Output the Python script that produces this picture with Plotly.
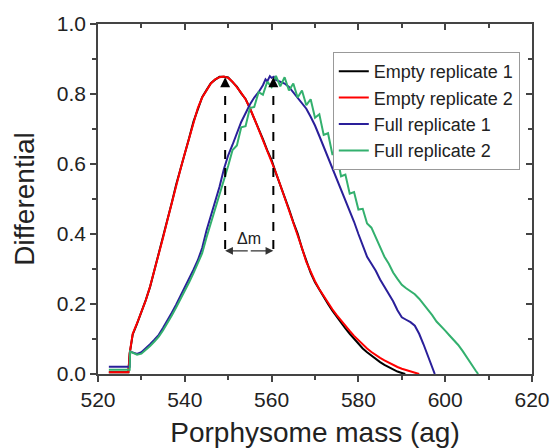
import plotly.graph_objects as go

# Empty replicate 1 (black)
empty1_x = [522.5, 527.0, 527.3, 528, 529, 530, 531, 532, 533, 534, 535, 536, 537, 538, 539,
            540, 541, 542, 543, 544, 545, 546, 547, 548, 549, 550, 551, 552, 553, 554, 555,
            556, 557, 558, 559, 560, 561, 562, 563, 564, 565, 566, 567, 568, 569, 570, 571,
            572, 573, 574, 575, 576, 577, 578, 579, 580, 581, 582, 583, 584, 585, 586, 587,
            588, 589, 590, 590.8]
empty1_y = [0.005, 0.005, 0.058, 0.113, 0.144, 0.176, 0.211, 0.249, 0.296, 0.341, 0.389, 0.441,
            0.489, 0.541, 0.584, 0.631, 0.674, 0.721, 0.759, 0.791, 0.811, 0.831, 0.841, 0.849,
            0.849, 0.847, 0.834, 0.821, 0.802, 0.786, 0.759, 0.731, 0.699, 0.671, 0.639, 0.611,
            0.574, 0.541, 0.504, 0.471, 0.434, 0.401, 0.359, 0.321, 0.289, 0.262, 0.240, 0.219,
            0.200, 0.181, 0.163, 0.146, 0.130, 0.115, 0.100, 0.086, 0.073, 0.062, 0.052, 0.043,
            0.034, 0.026, 0.019, 0.013, 0.007, 0.003, 0.0]

# Empty replicate 2 (red)
empty2_x = [522.5, 527.0, 527.3, 528, 529, 530, 531, 532, 533, 534, 535, 536, 537, 538, 539,
            540, 541, 542, 543, 544, 545, 546, 547, 548, 549, 550, 551, 552, 553, 554, 555,
            556, 557, 558, 559, 560, 561, 562, 563, 564, 565, 566, 567, 568, 569, 570, 571,
            572, 573, 574, 575, 576, 577, 578, 579, 580, 581, 582, 583, 584, 585, 586, 587,
            588, 589, 590, 591, 592, 593, 594]
empty2_y = [0.005, 0.005, 0.06, 0.115, 0.145, 0.175, 0.21, 0.25, 0.295, 0.34, 0.39, 0.44, 0.49,
            0.54, 0.585, 0.63, 0.675, 0.72, 0.76, 0.79, 0.812, 0.83, 0.842, 0.848, 0.85, 0.846,
            0.835, 0.82, 0.803, 0.785, 0.76, 0.73, 0.70, 0.67, 0.64, 0.61, 0.575, 0.54, 0.505,
            0.47, 0.435, 0.40, 0.36, 0.32, 0.29, 0.265, 0.242, 0.222, 0.203, 0.185, 0.168,
            0.152, 0.137, 0.123, 0.109, 0.096, 0.084, 0.073, 0.063, 0.054, 0.046, 0.039, 0.032,
            0.026, 0.02, 0.015, 0.011, 0.007, 0.003, 0.0]

# Full replicate 1 (blue)
full1_x = [522.5, 527.3, 527.4, 528, 529, 530, 531, 532, 533, 534, 535, 536, 537, 538, 539,
           540, 541, 542, 543, 544, 545, 546, 547, 548, 549, 550, 551, 552, 553, 554, 555,
           556, 557, 558, 558.6, 559, 559.6, 560, 560.5, 561, 562, 563, 564, 565, 566, 567,
           568, 569, 570, 571, 572, 573, 574, 575, 576, 577, 578, 579, 580, 581, 582, 583,
           584, 585, 586, 587, 588, 589, 590, 591, 592, 593, 594, 595, 596, 597, 597.6]
full1_y = [0.021, 0.021, 0.064, 0.061, 0.057, 0.062, 0.073, 0.085, 0.098, 0.112, 0.132, 0.152,
           0.175, 0.198, 0.222, 0.248, 0.272, 0.298, 0.325, 0.36, 0.41, 0.45, 0.49, 0.535,
           0.585, 0.625, 0.655, 0.69, 0.72, 0.745, 0.77, 0.79, 0.805, 0.825, 0.842, 0.836,
           0.851, 0.846, 0.849, 0.84, 0.835, 0.83, 0.82, 0.805, 0.79, 0.775, 0.758, 0.735,
           0.71, 0.68, 0.65, 0.62, 0.59, 0.56, 0.53, 0.50, 0.47, 0.435, 0.40, 0.365, 0.335,
           0.315, 0.295, 0.27, 0.25, 0.232, 0.208, 0.182, 0.162, 0.155, 0.148, 0.138, 0.115,
           0.085, 0.05, 0.02, 0.0]

# Full replicate 2 (green)
full2_x = [522.5, 527.3, 527.4, 528, 529, 530, 531, 532, 533, 534, 535, 536, 537, 538, 539,
           540, 541, 542, 543, 544, 545, 546, 547, 548, 549, 550, 551, 552, 553, 554, 555,
           556, 557, 558, 559, 560, 561, 562, 563, 564, 565, 566, 567, 568, 569, 570, 571,
           572, 573, 574, 575, 576, 577, 578, 579, 580, 581, 582, 583, 584, 585, 586, 587,
           588, 589, 590, 591, 592, 593, 594, 595, 596, 597, 598, 599, 600, 601, 602, 603,
           604, 605, 606, 607, 607.6]
full2_y = [0.012, 0.012, 0.064, 0.06, 0.055, 0.058, 0.068, 0.08, 0.093, 0.107, 0.125, 0.145,
           0.167, 0.19, 0.213, 0.238, 0.262, 0.288, 0.315, 0.345, 0.39, 0.43, 0.47, 0.51,
           0.555, 0.595, 0.64, 0.653, 0.705, 0.708, 0.76, 0.763, 0.805, 0.798, 0.835, 0.82,
           0.852, 0.822, 0.848, 0.81, 0.83, 0.79, 0.81, 0.768, 0.785, 0.732, 0.742, 0.683,
           0.688, 0.628, 0.628, 0.565, 0.57, 0.515, 0.52, 0.47, 0.472, 0.43, 0.418, 0.39,
           0.365, 0.335, 0.315, 0.29, 0.272, 0.255, 0.245, 0.236, 0.228, 0.215, 0.2, 0.185,
           0.168, 0.15, 0.138, 0.124, 0.11, 0.097, 0.083, 0.066, 0.046, 0.028, 0.01, 0.0]

series_names = ["Empty replicate 1", "Empty replicate 2", "Full replicate 1", "Full replicate 2"]
series_colors = ["#000000", "#ff0000", "#2a1f9a", "#33b06e"]

# peak positions used for the delta-m markers
peak_empty = 549.3
peak_full = 560.4
peak_height = 0.848
dm_level = 0.352

font_family = "Liberation Sans, Arial, sans-serif"
axis_color = "#444444"

fig = go.Figure()
for name, color, xs, ys in zip(
    series_names,
    series_colors,
    [empty1_x, empty2_x, full1_x, full2_x],
    [empty1_y, empty2_y, full1_y, full2_y],
):
    fig.add_trace(go.Scatter(x=xs, y=ys, mode="lines", name=name,
                             line=dict(color=color, width=2)))

# dummy trace so the mirrored (inside-tick) axes are drawn
fig.add_trace(go.Scatter(x=[None], y=[None], xaxis="x2", yaxis="y2",
                         showlegend=False, hoverinfo="skip"))

# dashed vertical markers at the two peaks
for px in [peak_empty, peak_full]:
    fig.add_shape(type="line", x0=px, x1=px, y0=dm_level + 0.005, y1=peak_height - 0.03,
                  line=dict(color="black", width=2, dash="dash"))
    fig.add_annotation(x=px, y=peak_height, ax=px, ay=peak_height - 0.03,
                       xref="x", yref="y", axref="x", ayref="y", text="",
                       showarrow=True, arrowhead=2, arrowsize=1, arrowwidth=2,
                       arrowcolor="black")
    fig.add_annotation(x=px, y=dm_level, ax=(peak_empty + peak_full) / 2, ay=dm_level,
                       xref="x", yref="y", axref="x", ayref="y", text="",
                       showarrow=True, arrowhead=2, arrowsize=1.3, arrowwidth=1.2,
                       arrowcolor="#333333")

fig.add_annotation(x=(peak_empty + peak_full) / 2, y=dm_level + 0.035, text="Δm",
                   showarrow=False, font=dict(family=font_family, size=16, color="#222222"))

fig.update_layout(
    width=550,
    height=448,
    margin=dict(l=98, r=18, t=24, b=74),
    plot_bgcolor="white",
    paper_bgcolor="white",
    font=dict(family=font_family, color="#222222"),
    showlegend=True,
    legend=dict(
        x=0.541, y=0.92, xanchor="left", yanchor="top",
        bordercolor="#999999", borderwidth=1, bgcolor="white",
        font=dict(size=18, color="#222222"),
        tracegroupgap=0,
    ),
    xaxis=dict(
        range=[520, 620], dtick=20, tick0=520, automargin=False,
        showline=True, linecolor=axis_color, linewidth=1.5,
        ticks="outside", ticklen=6, tickwidth=1.5, tickcolor=axis_color,
        minor=dict(dtick=10, ticks="outside", ticklen=4, tickcolor=axis_color),
        showgrid=False, zeroline=False,
        tickfont=dict(size=21),
        title=dict(text="Porphysome mass (ag)", font=dict(size=28), standoff=18),
    ),
    yaxis=dict(
        range=[0, 1.0], dtick=0.2, tick0=0, tickformat=".1f", automargin=False,
        showline=True, linecolor=axis_color, linewidth=1.5,
        ticks="outside", ticklen=6, tickwidth=1.5, tickcolor=axis_color,
        minor=dict(dtick=0.1, ticks="outside", ticklen=4, tickcolor=axis_color),
        showgrid=False, zeroline=False,
        tickfont=dict(size=21),
        title=dict(text="Differential", font=dict(size=28), standoff=14),
    ),
    xaxis2=dict(
        range=[520, 620], dtick=20, tick0=520, overlaying="x", side="top", automargin=False,
        showline=True, linecolor=axis_color, linewidth=1.5,
        ticks="inside", ticklen=6, tickwidth=1.5, tickcolor=axis_color,
        minor=dict(dtick=10, ticks="inside", ticklen=4, tickcolor=axis_color),
        showticklabels=False, showgrid=False, zeroline=False,
    ),
    yaxis2=dict(
        range=[0, 1.0], dtick=0.2, tick0=0, overlaying="y", side="right", automargin=False,
        showline=True, linecolor=axis_color, linewidth=1.5,
        ticks="inside", ticklen=6, tickwidth=1.5, tickcolor=axis_color,
        minor=dict(dtick=0.1, ticks="inside", ticklen=4, tickcolor=axis_color),
        showticklabels=False, showgrid=False, zeroline=False,
    ),
)

# the page body has a default 8px margin; remove it so the figure fills the window
fig.write_html("out.html", config={"displayModeBar": False},
               post_script="document.body.style.margin = '0px';")
